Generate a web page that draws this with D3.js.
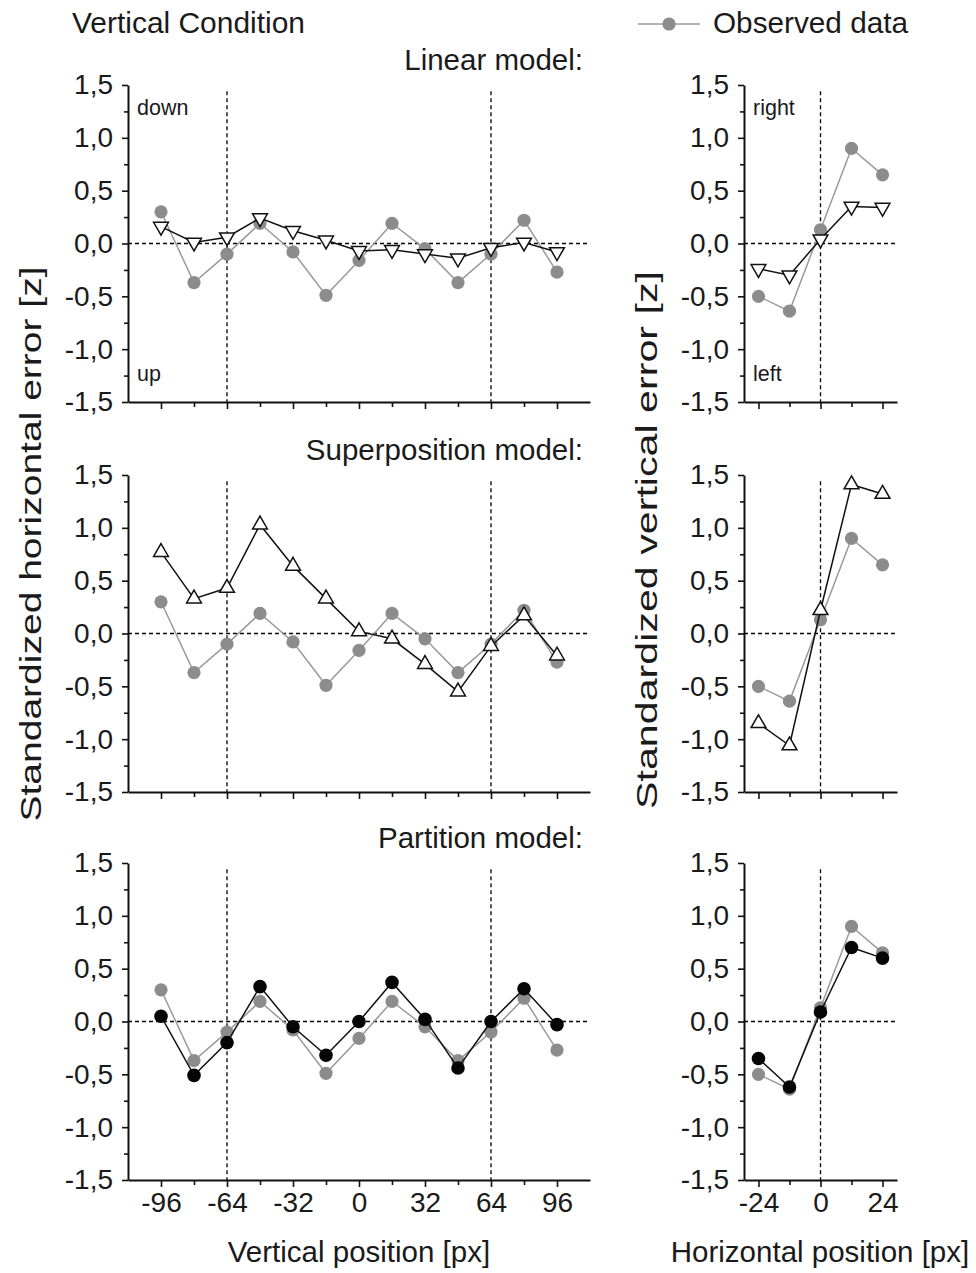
<!DOCTYPE html>
<html><head><meta charset="utf-8">
<script src="https://cdn.jsdelivr.net/npm/d3@7"></script>
<style>
body{margin:0;background:#fff}
text{font-family:"Liberation Sans",Arial,Helvetica,sans-serif;fill:#1a1a1a}
</style></head>
<body><svg id="chart" width="976" height="1273"></svg>
<script>
// ---------- data ----------
const vertPositions = [-96,-80,-64,-48,-32,-16,0,16,32,48,64,80,96];
const horizPositions = [-24,-12,0,12,24];

const observedVert  = [0.30,-0.37,-0.10,0.19,-0.08,-0.49,-0.16,0.19,-0.05,-0.37,-0.10,0.22,-0.27];
const observedHoriz = [-0.50,-0.64,0.13,0.90,0.65];

const linearVert  = [0.16,0.01,0.06,0.24,0.12,0.03,-0.07,-0.06,-0.10,-0.14,-0.04,0.01,-0.08];
const linearHoriz = [-0.24,-0.30,0.04,0.35,0.34];

const superVert  = [0.77,0.33,0.43,1.03,0.64,0.33,0.02,-0.05,-0.29,-0.55,-0.12,0.17,-0.21];
const superHoriz = [-0.85,-1.06,0.22,1.41,1.32];

const partVert  = [0.05,-0.51,-0.20,0.33,-0.05,-0.32,0.00,0.37,0.02,-0.44,0.00,0.31,-0.03];
const partHoriz = [-0.35,-0.62,0.09,0.70,0.60];

const yMajorTicks = [-1.5,-1.0,-0.5,0,0.5,1.0,1.5];
const yTickLabels = ["-1,5","-1,0","-0,5","0,0","0,5","1,0","1,5"];
const yMinorTicks = [-1.25,-0.75,-0.25,0.25,0.75,1.25];
const vertTickLabels = [-96,-64,-32,0,32,64,96];
const horizTickLabels = [-24,0,24];
const vertRefLines = [-64,64];
const horizRefLines = [0];

const modelTitles = ["Linear model:","Superposition model:","Partition model:"];
const modelMarkers = ["triDown","triUp","dot"];

// ---------- layout ----------
const svg = d3.select("#chart");
const rowTops = [85,475,863];
const panelH = 317;
const leftX = [128,590], rightX = [744,897];

const xV = d3.scaleLinear().domain([-112,112]).range(leftX);
const xH = d3.scaleLinear().domain([-29.6,29.6]).range(rightX);

const rows = [
  {vert: linearVert, horiz: linearHoriz},
  {vert: superVert, horiz: superHoriz},
  {vert: partVert, horiz: partHoriz}
];

const gray = "#8c8c8c", grayLine = "#9a9a9a";
const hyphenFmt = d => String(d).replace("\u2212","-");

function drawPanel(g, x, y, xs, obs, model, marker, refLines, xLabels, isBottom, minorX){
  g.append("line").attr("x1", x.range()[0]).attr("x2", x.range()[1])
    .attr("y1", y(0)).attr("y2", y(0))
    .attr("stroke","#000").attr("stroke-width",1.3).attr("stroke-dasharray","4,3");
  refLines.forEach(v=>{
    g.append("line").attr("x1", x(v)).attr("x2", x(v))
      .attr("y1", y(1.44)).attr("y2", y(-1.5))
      .attr("stroke","#000").attr("stroke-width",1.3).attr("stroke-dasharray","4,3");
  });
  const ya = g.append("g").attr("transform",`translate(${x.range()[0]},0)`)
    .call(d3.axisLeft(y).tickValues(yMajorTicks).tickFormat(d=>yTickLabels[yMajorTicks.indexOf(d)]).tickSize(6).tickPadding(9).tickSizeOuter(0));
  ya.selectAll("text").attr("font-size",28).attr("fill","#1a1a1a").style("font-family","'Liberation Sans',Arial,sans-serif");
  const ym = g.append("g").attr("transform",`translate(${x.range()[0]},0)`)
    .call(d3.axisLeft(y).tickValues(yMinorTicks).tickFormat("").tickSize(4).tickSizeOuter(0));
  ym.select(".domain").remove();
  const xa = g.append("g").attr("transform",`translate(0,${y.range()[0]})`)
    .call(d3.axisBottom(x).tickValues(xLabels).tickFormat(isBottom? hyphenFmt : "").tickSize(7).tickPadding(5).tickSizeOuter(0));
  xa.selectAll("text").attr("font-size",28).attr("fill","#1a1a1a").style("font-family","'Liberation Sans',Arial,sans-serif");
  const xm = g.append("g").attr("transform",`translate(0,${y.range()[0]})`)
    .call(d3.axisBottom(x).tickValues(minorX).tickFormat("").tickSize(5).tickSizeOuter(0));
  xm.select(".domain").remove();
  g.selectAll(".domain").attr("stroke","#111").attr("stroke-width",2);
  g.selectAll(".tick line").attr("stroke","#111").attr("stroke-width",1.6);

  const line = d3.line().x((d,i)=>x(xs[i])).y(d=>y(d));
  g.append("path").datum(obs).attr("d",line).attr("fill","none").attr("stroke",grayLine).attr("stroke-width",1.5);
  g.selectAll(".obs").data(obs).join("circle").attr("class","obs")
    .attr("cx",(d,i)=>x(xs[i])).attr("cy",d=>y(d)).attr("r",6.6).attr("fill",gray);
  g.append("path").datum(model).attr("d",line).attr("fill","none").attr("stroke","#111").attr("stroke-width",1.5);
  if(marker==="dot"){
    g.selectAll(".mod").data(model).join("circle").attr("class","mod")
      .attr("cx",(d,i)=>x(xs[i])).attr("cy",d=>y(d)).attr("r",6.8).attr("fill","#050505");
  } else {
    const sym = d3.symbol().type(d3.symbolTriangle).size(95);
    g.selectAll(".mod").data(model).join("path").attr("class","mod")
      .attr("d",sym)
      .attr("transform",(d,i)=>`translate(${x(xs[i])},${y(d)})${marker==="triDown"?" rotate(180)":""}`)
      .attr("fill","#fff").attr("stroke","#111").attr("stroke-width",1.5);
  }
}

const minorVert = vertPositions.filter(v=>!vertTickLabels.includes(v));
const minorHoriz = horizPositions.filter(v=>!horizTickLabels.includes(v));

rows.forEach((r,k)=>{
  const y = d3.scaleLinear().domain([-1.5,1.5]).range([rowTops[k]+panelH, rowTops[k]]);
  const gl = svg.append("g"), gr = svg.append("g");
  drawPanel(gl, xV, y, vertPositions, observedVert, r.vert, modelMarkers[k], vertRefLines, vertTickLabels, k===2, minorVert);
  drawPanel(gr, xH, y, horizPositions, observedHoriz, r.horiz, modelMarkers[k], horizRefLines, horizTickLabels, k===2, minorHoriz);
  svg.append("text").attr("x",583).attr("y",rowTops[k]-15).attr("text-anchor","end")
    .attr("font-size",29.5).text(modelTitles[k]);
});

svg.append("text").attr("x",137).attr("y",115).attr("font-size",21.5).text("down");
svg.append("text").attr("x",137).attr("y",381).attr("font-size",21.5).text("up");
svg.append("text").attr("x",753).attr("y",115).attr("font-size",21.5).text("right");
svg.append("text").attr("x",753).attr("y",381).attr("font-size",21.5).text("left");

svg.append("text").attr("x",72).attr("y",33).attr("font-size",29.5).attr("textLength",233).attr("lengthAdjust","spacingAndGlyphs").text("Vertical Condition");
svg.append("line").attr("x1",638).attr("x2",700).attr("y1",24).attr("y2",24).attr("stroke",grayLine).attr("stroke-width",1.5);
svg.append("circle").attr("cx",669).attr("cy",24).attr("r",6.6).attr("fill",gray);
svg.append("text").attr("x",713).attr("y",33).attr("font-size",29.5).attr("textLength",195).attr("lengthAdjust","spacingAndGlyphs").text("Observed data");

svg.append("text").attr("transform","translate(41,544) rotate(-90)").attr("text-anchor","middle")
  .attr("font-size",30).attr("textLength",555).attr("lengthAdjust","spacingAndGlyphs").text("Standardized horizontal error [z]");
svg.append("text").attr("transform","translate(657,540) rotate(-90)").attr("text-anchor","middle")
  .attr("font-size",30).attr("textLength",538).attr("lengthAdjust","spacingAndGlyphs").text("Standardized vertical error [z]");
svg.append("text").attr("x",359).attr("y",1262).attr("text-anchor","middle").attr("font-size",29.5).text("Vertical position [px]");
svg.append("text").attr("x",820).attr("y",1262).attr("text-anchor","middle").attr("font-size",29.5).text("Horizontal position [px]");
</script></body></html>
